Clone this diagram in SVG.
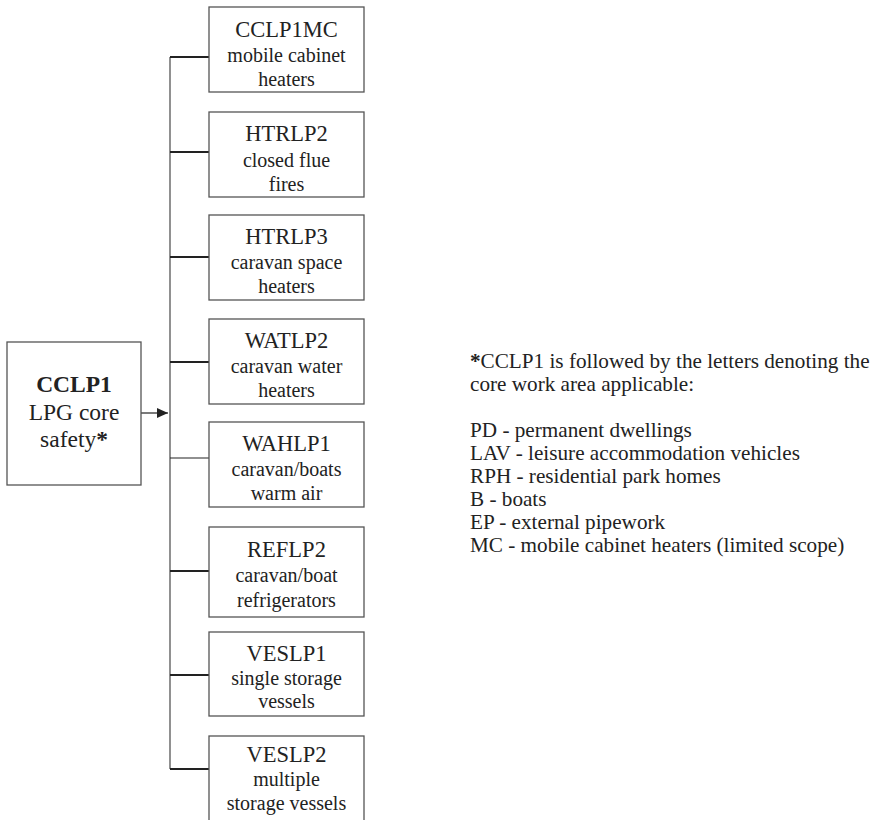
<svg xmlns="http://www.w3.org/2000/svg" width="875" height="820" viewBox="0 0 875 820">
<style>
text{font-family:"Liberation Serif","Times New Roman",serif;fill:#222;}
.box{fill:#fff;stroke:#555;stroke-width:1.3;}
.t{font-size:22.5px;text-anchor:middle;}
.s{font-size:20px;text-anchor:middle;}
.m{font-size:23.5px;text-anchor:middle;}
.r{font-size:21.2px;}
.tick{stroke:#222;stroke-width:2;}
.thin{stroke:#222;stroke-width:1.2;}
.vert{stroke:#555;stroke-width:1.3;fill:none;}
</style>
<defs>
<marker id="ah" markerWidth="11" markerHeight="10" refX="11" refY="5" orient="auto" markerUnits="userSpaceOnUse">
<path d="M0,0 L11,5 L0,10 Z" fill="#222"/>
</marker>
</defs>
<g id="connectors">
<line class="vert" x1="170" y1="57" x2="170" y2="769"/>
<line class="tick" x1="170" y1="57" x2="209" y2="57"/>
<line class="tick" x1="170" y1="152" x2="209" y2="152"/>
<line class="tick" x1="170" y1="257" x2="209" y2="257"/>
<line class="tick" x1="170" y1="362" x2="209" y2="362"/>
<line class="thin" x1="170" y1="458" x2="209" y2="458"/>
<line class="tick" x1="170" y1="571" x2="209" y2="571"/>
<line class="tick" x1="170" y1="675" x2="209" y2="675"/>
<line class="tick" x1="170" y1="769" x2="209" y2="769"/>
<line class="thin" x1="141" y1="413" x2="168" y2="413" marker-end="url(#ah)"/>
</g>
<g id="cclp1">
<rect class="box" x="7" y="342" width="134" height="143"/>
<text class="m" x="74" y="392" font-weight="bold">CCLP1</text>
<text class="m" x="74" y="420">LPG core</text>
<text class="m" x="74" y="447">safety<tspan font-weight="bold">*</tspan></text>
</g>
<g id="cclp1mc">
<rect class="box" x="209" y="7" width="155" height="85"/>
<text class="t" x="286.5" y="37">CCLP1MC</text>
<text class="s" x="286.5" y="62">mobile cabinet</text>
<text class="s" x="286.5" y="86">heaters</text>
</g>
<g id="htrlp2">
<rect class="box" x="209" y="112" width="155" height="85"/>
<text class="t" x="286.5" y="141">HTRLP2</text>
<text class="s" x="286.5" y="167">closed flue</text>
<text class="s" x="286.5" y="191">fires</text>
</g>
<g id="htrlp3">
<rect class="box" x="209" y="215" width="155" height="85"/>
<text class="t" x="286.5" y="244">HTRLP3</text>
<text class="s" x="286.5" y="269">caravan space</text>
<text class="s" x="286.5" y="293">heaters</text>
</g>
<g id="watlp2">
<rect class="box" x="209" y="319" width="155" height="85"/>
<text class="t" x="286.5" y="348">WATLP2</text>
<text class="s" x="286.5" y="373">caravan water</text>
<text class="s" x="286.5" y="397">heaters</text>
</g>
<g id="wahlp1">
<rect class="box" x="209" y="422" width="155" height="85"/>
<text class="t" x="286.5" y="451">WAHLP1</text>
<text class="s" x="286.5" y="476">caravan/boats</text>
<text class="s" x="286.5" y="500">warm air</text>
</g>
<g id="reflp2">
<rect class="box" x="209" y="527" width="155" height="90"/>
<text class="t" x="286.5" y="557">REFLP2</text>
<text class="s" x="286.5" y="582">caravan/boat</text>
<text class="s" x="286.5" y="607">refrigerators</text>
</g>
<g id="veslp1">
<rect class="box" x="209" y="632" width="155" height="84"/>
<text class="t" x="286.5" y="661">VESLP1</text>
<text class="s" x="286.5" y="685">single storage</text>
<text class="s" x="286.5" y="708">vessels</text>
</g>
<g id="veslp2">
<rect class="box" x="209" y="736" width="155" height="100"/>
<text class="t" x="286.5" y="762">VESLP2</text>
<text class="s" x="286.5" y="786">multiple</text>
<text class="s" x="286.5" y="810">storage vessels</text>
</g>
<g id="note">
<text class="r" x="470" y="368"><tspan font-weight="bold">*</tspan>CCLP1 is followed by the letters denoting the</text>
<text class="r" x="470" y="391">core work area applicable:</text>
<text class="r" x="470" y="437">PD - permanent dwellings</text>
<text class="r" x="470" y="460">LAV - leisure accommodation vehicles</text>
<text class="r" x="470" y="483">RPH - residential park homes</text>
<text class="r" x="470" y="506">B - boats</text>
<text class="r" x="470" y="529">EP - external pipework</text>
<text class="r" x="470" y="552">MC - mobile cabinet heaters (limited scope)</text>
</g>
</svg>
